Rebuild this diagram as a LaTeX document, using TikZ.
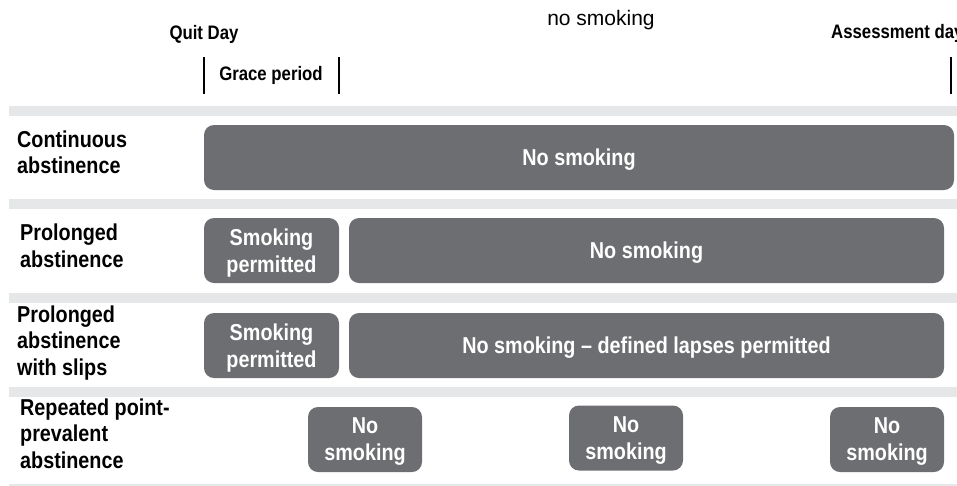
\documentclass[tikz,border=0pt]{standalone}
\usepackage{fontspec}
\setmainfont{Liberation Sans}
\newfontfamily\cb{Liberation Sans}[FakeStretch=0.86]
\definecolor{boxgray}{HTML}{6D6E71}
\definecolor{bandgray}{HTML}{E6E7E8}
\tikzset{
  pill/.style={fill=boxgray, rounded corners=10pt, inner sep=0pt, minimum height=65pt},
  pilltext/.style={text=white, align=center, inner sep=0pt, yshift=-2.5pt,
    font=\cb\bfseries\fontsize{23}{27}\selectfont},
  rowlabel/.style={anchor=base west, inner sep=0pt, align=left,
    font=\cb\bfseries\fontsize{23}{26.5}\selectfont},
  head/.style={anchor=base, inner sep=0pt, font=\cb\bfseries\fontsize{19.5}{22}\selectfont},
  band/.style={fill=bandgray, draw=none},
  tick/.style={line width=2pt, black}
}
\begin{document}
\begin{tikzpicture}[x=1pt,y=-1pt]
\useasboundingbox (0,0) rectangle (957,485);
% bands
\fill[band] (9,106) rectangle (957,116);
\fill[band] (9,199) rectangle (957,209);
\fill[band] (9,293) rectangle (957,303);
\fill[band] (9,387) rectangle (957,397);
\fill[band] (9,484) rectangle (957,488);
% header
\node[head] (quit) at (204,39) {Quit Day};
\node[head] (grace) at (271,80) {Grace period};
\node[head, anchor=base west] (assess) at (831,38) {Assessment day};
\node[anchor=base, inner sep=0pt, font=\fontsize{21}{24}\selectfont] (nosm) at (601,25) {no smoking};
\coordinate (t1a) at (204,57); \coordinate (t1b) at (204,94);
\coordinate (t2a) at (339,57); \coordinate (t2b) at (339,94);
\coordinate (t3a) at (951,57); \coordinate (t3b) at (951,94);
\draw[tick] (t1a) -- (t1b);
\draw[tick] (t2a) -- (t2b);
\draw[tick] (t3a) -- (t3b);
% row labels (base = baseline of last line)
\node[rowlabel] (l1) at (17,173.5) {Continuous\\abstinence};
\node[rowlabel] (l2) at (20,267) {Prolonged\\abstinence};
\node[rowlabel] (l3) at (17,375) {Prolonged\\abstinence\\with slips};
\node[rowlabel] (l4) at (20,468) {Repeated point-\\prevalent\\abstinence};
% boxes
\node[pill, minimum width=750pt, label={[pilltext]center:No smoking}] (b1) at (579,157.5) {};
\node[pill, minimum width=135pt, label={[pilltext]center:{Smoking\\permitted}}] (b2a) at (271.5,250.5) {};
\node[pill, minimum width=595pt, label={[pilltext]center:No smoking}] (b2b) at (646.5,250.5) {};
\node[pill, minimum width=135pt, label={[pilltext]center:{Smoking\\permitted}}] (b3a) at (271.5,345.5) {};
\node[pill, minimum width=595pt, label={[pilltext]center:{No smoking – defined lapses permitted}}] (b3b) at (646.5,345.5) {};
\node[pill, minimum width=114pt, label={[pilltext]center:{No\\smoking}}] (b4a) at (365,439.5) {};
\node[pill, minimum width=114pt, label={[pilltext]center:{No\\smoking}}] (b4b) at (626,438) {};
\node[pill, minimum width=114pt, label={[pilltext]center:{No\\smoking}}] (b4c) at (887,439.5) {};
\end{tikzpicture}
\end{document}
